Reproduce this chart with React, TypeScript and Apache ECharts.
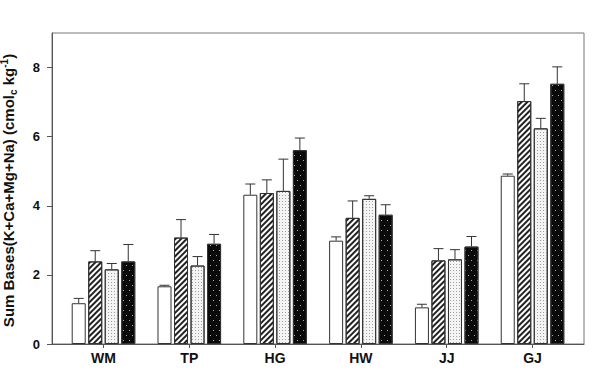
import React, { useEffect, useRef } from 'react';
import * as echarts from 'echarts';

// Sites along the x axis
const sites = ['WM', 'TP', 'HG', 'HW', 'JJ', 'GJ'];

// Mean sum of bases (cmolc kg-1) for the four treatments, and their upper error
const openMean = [1.18, 1.67, 4.32, 2.99, 1.06, 4.87];
const openErr = [0.14, 0.03, 0.31, 0.11, 0.09, 0.05];

const hatchedMean = [2.39, 3.08, 4.37, 3.65, 2.42, 7.03];
const hatchedErr = [0.31, 0.52, 0.38, 0.49, 0.34, 0.5];

const greyMean = [2.16, 2.27, 4.43, 4.2, 2.45, 6.24];
const greyErr = [0.17, 0.26, 0.92, 0.09, 0.28, 0.29];

const blackMean = [2.39, 2.9, 5.61, 3.74, 2.82, 7.53];
const blackErr = [0.49, 0.27, 0.35, 0.29, 0.29, 0.49];

const yTicks = [0, 2, 4, 6, 8];

const BAR_W = 14;
const BAR_GAP = 0.18;
const FONT = '"Liberation Sans", Arial, sans-serif';
const AXIS_COLOR = '#555';
const EDGE = '#333';

const groups = [
  {
    name: 'open',
    mean: openMean,
    err: openErr,
    color: '#ffffff',
    decal: undefined as any,
  },
  {
    name: 'hatched',
    mean: hatchedMean,
    err: hatchedErr,
    color: '#ffffff',
    decal: {
      symbol: 'rect',
      symbolSize: 1,
      color: '#222',
      dashArrayX: [1, 0],
      dashArrayY: [1.4, 1.9],
      rotation: -Math.PI / 4,
    },
  },
  {
    name: 'grey',
    mean: greyMean,
    err: greyErr,
    color: '#f4f4f4',
    decal: {
      symbol: 'rect',
      symbolSize: 1,
      color: '#a0a0a0',
      dashArrayX: [1, 2],
      dashArrayY: [1, 2],
      rotation: 0,
    },
  },
  {
    name: 'black',
    mean: blackMean,
    err: blackErr,
    color: '#0a0a0a',
    decal: {
      symbol: 'rect',
      symbolSize: 1,
      color: '#aaaaaa',
      dashArrayX: [[1, 5], [0, 3, 1, 2]],
      dashArrayY: [1, 4],
      rotation: 0,
    },
  },
];

export default function App() {
  const ref = useRef<HTMLDivElement>(null);

  useEffect(() => {
    if (!ref.current) return;
    const chart = echarts.init(ref.current, null, { renderer: 'svg' });
    const step = BAR_W * (1 + BAR_GAP);
    const n = groups.length;

    const barSeries = groups.map((g) => ({
      type: 'bar',
      name: g.name,
      barWidth: BAR_W,
      barGap: `${BAR_GAP * 100}%`,
      data: g.mean.map((v, i) => [i + 1, v]),
      itemStyle: {
        color: g.color,
        borderColor: EDGE,
        borderWidth: 1,
        ...(g.decal ? { decal: g.decal } : {}),
      },
      z: 2,
    }));

    const errSeries = groups.map((g, gi) => ({
      type: 'custom',
      name: g.name + '-err',
      data: g.mean.map((v, i) => [i + 1, v, v + g.err[i]]),
      z: 3,
      renderItem: (params: any, api: any) => {
        const x = api.value(0);
        const base = api.coord([x, api.value(1)]);
        const top = api.coord([x, api.value(2)]);
        const cx = base[0] + (gi - (n - 1) / 2) * step;
        const half = 5;
        return {
          type: 'group',
          children: [
            {
              type: 'line',
              shape: { x1: cx, y1: base[1], x2: cx, y2: top[1] },
              style: { stroke: EDGE, lineWidth: 1 },
            },
            {
              type: 'line',
              shape: { x1: cx - half, y1: top[1], x2: cx + half, y2: top[1] },
              style: { stroke: EDGE, lineWidth: 1 },
            },
          ],
        };
      },
    }));

    chart.setOption({
      animation: false,
      backgroundColor: '#ffffff',
      grid: {
        left: 52,
        right: 16,
        top: 33,
        bottom: 33,
        outerBoundsMode: 'none',
        show: true,
        borderColor: '#777',
        borderWidth: 1,
        backgroundColor: 'transparent',
      },
      xAxis: {
        type: 'value',
        min: 0.4,
        max: 6.6,
        splitLine: { show: false },
        axisLine: { show: true, lineStyle: { color: AXIS_COLOR } },
        axisTick: {
          show: true,
          customValues: sites.map((_, i) => i + 1),
          length: 4,
          lineStyle: { color: AXIS_COLOR },
        },
        axisLabel: {
          customValues: sites.map((_, i) => i + 1),
          formatter: (v: number) => sites[Math.round(v) - 1] ?? '',
          fontFamily: FONT,
          fontWeight: 'bold',
          fontSize: 14,
          color: '#111',
          margin: 7,
        },
      },
      yAxis: {
        type: 'value',
        min: 0,
        max: 9,
        interval: 2,
        splitLine: { show: false },
        axisLine: { show: true, lineStyle: { color: AXIS_COLOR } },
        axisTick: {
          show: true,
          customValues: yTicks,
          length: 5,
          lineStyle: { color: AXIS_COLOR },
        },
        axisLabel: {
          customValues: yTicks,
          fontFamily: FONT,
          fontWeight: 'bold',
          fontSize: 13,
          color: '#111',
          margin: 12,
        },
        name: 'Sum Bases(K+Ca+Mg+Na) (cmol{sub|c} kg{sup|-1})',
        nameLocation: 'middle',
        nameGap: 34,
        nameRotate: 90,
        nameTextStyle: {
          fontFamily: FONT,
          fontWeight: 'bold',
          fontSize: 15,
          color: '#111',
          lineHeight: 19,
          padding: [0, 4, 0, 0],
          rich: {
            sub: {
              fontFamily: FONT,
              fontWeight: 'bold',
              fontSize: 10,
              lineHeight: 19,
              verticalAlign: 'bottom',
              color: '#111',
            },
            sup: {
              fontFamily: FONT,
              fontWeight: 'bold',
              fontSize: 10,
              lineHeight: 19,
              verticalAlign: 'top',
              color: '#111',
            },
          },
        },
      },
      series: [...barSeries, ...errSeries],
    });

    return () => chart.dispose();
  }, []);

  return (
    <div
      ref={ref}
      style={{ position: 'fixed', left: 0, top: 0, width: 600, height: 377, background: '#fff' }}
    />
  );
}
